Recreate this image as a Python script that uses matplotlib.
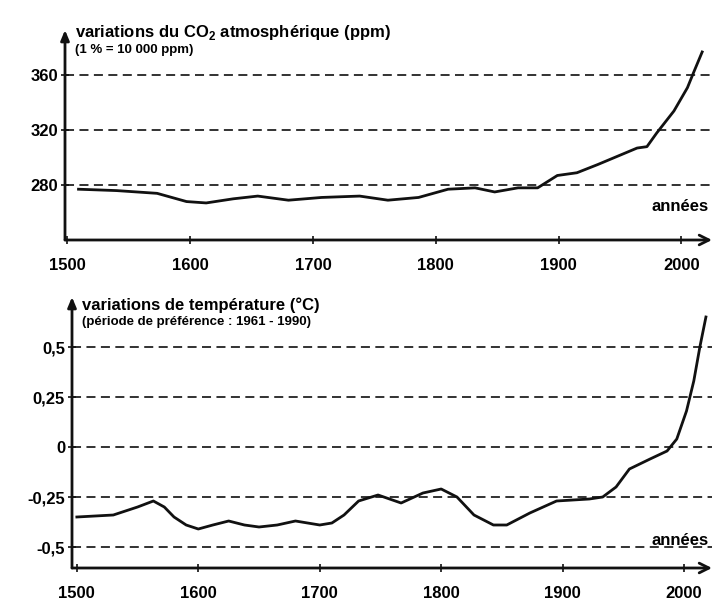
import matplotlib.pyplot as plt

# CO2 atmospheric concentration (ppm)
co2_years = [1509, 1540, 1573, 1597, 1613, 1635, 1655, 1680, 1707, 1738, 1761, 1786,
             1810, 1832, 1848, 1867, 1883, 1899, 1915, 1932, 1948, 1964, 1972, 1980,
             1994, 2005, 2010, 2017]
co2_ppm = [277, 276, 274, 268, 267, 270, 272, 269, 271, 272, 269, 271,
           277, 278, 275, 278, 278, 287, 289, 295, 301, 307, 308, 318,
           334, 351, 362, 377]

# temperature anomaly (°C), reference period 1961-1990
temp_years = [1500, 1530, 1550, 1563, 1572, 1580, 1590, 1600, 1612, 1625, 1638, 1650,
              1665, 1680, 1700, 1710, 1720, 1732, 1748, 1767, 1785, 1800, 1813, 1827,
              1843, 1854, 1873, 1895, 1922, 1933, 1944, 1955, 1972, 1986, 1994, 2002,
              2008, 2013, 2018]
temp_anom = [-0.35, -0.34, -0.30, -0.27, -0.30, -0.35, -0.39, -0.41, -0.39, -0.37, -0.39, -0.40,
             -0.39, -0.37, -0.39, -0.38, -0.34, -0.27, -0.24, -0.28, -0.23, -0.21, -0.25, -0.34,
             -0.39, -0.39, -0.33, -0.27, -0.26, -0.25, -0.20, -0.11, -0.06, -0.02, 0.04, 0.18,
             0.33, 0.50, 0.65]

co2_ticks = [280, 320, 360]
co2_ticklabels = ['280', '320', '360']
temp_ticks = [-0.5, -0.25, 0, 0.25, 0.5]
temp_ticklabels = ['-0,5', '-0,25', '0', '0,25', '0,5']
year_ticks = [1500, 1600, 1700, 1800, 1900, 2000]

plt.rcParams['font.family'] = ['Liberation Sans', 'DejaVu Sans']
plt.rcParams['font.weight'] = 'bold'
plt.rcParams['mathtext.fontset'] = 'custom'
plt.rcParams['mathtext.bf'] = 'Liberation Sans:bold'

fig = plt.figure(figsize=(7.18, 6.07), dpi=100)
ax1 = fig.add_axes([65 / 718, 367 / 607, 647 / 718, 210 / 607])
ax2 = fig.add_axes([72 / 718, 39 / 607, 640 / 718, 271 / 607])


def style_axis(ax, yticks, ylabels, title, subtitle, ty, sy):
    for s in ax.spines.values():
        s.set_visible(False)
    ax.set_yticks(yticks)
    ax.set_yticklabels(ylabels, fontsize=12, fontweight='bold')
    ax.set_xticks(year_ticks)
    ax.set_xticklabels([str(y) for y in year_ticks], fontsize=12, fontweight='bold')
    ax.tick_params(axis='both', direction='inout', length=6, width=1.2, color='#111111')
    ax.tick_params(axis='x', pad=10)
    ax.tick_params(axis='y', pad=2)
    for y in yticks:
        ax.axhline(y, color='#222222', lw=1.3, ls=(0, (5, 3)), zorder=1)
    # axis arrows
    ax.annotate('', xy=(0, 1.0), xytext=(0, 0), xycoords='axes fraction',
                arrowprops=dict(arrowstyle='-|>,head_width=0.25,head_length=0.6',
                                lw=2, color='#111111', shrinkA=0, shrinkB=0))
    ax.annotate('', xy=(1.0, 0), xytext=(0, 0), xycoords='axes fraction',
                arrowprops=dict(arrowstyle='->,head_width=0.35,head_length=0.7',
                                lw=2, color='#111111', shrinkA=0, shrinkB=0))
    ax.text(0.015, ty, title, transform=ax.transAxes, fontsize=12,
            fontweight='bold', va='center', ha='left')
    ax.text(0.015, sy, subtitle, transform=ax.transAxes, fontsize=9.5,
            fontweight='bold', va='center', ha='left')


ax1.plot(co2_years, co2_ppm, color='#111111', lw=2, zorder=3)
ax1.set_xlim(1498, 2025)
ax1.set_ylim(240, 393)
style_axis(ax1, co2_ticks, co2_ticklabels,
           'variations du CO$_\\mathbf{2}$ atmosphérique (ppm)', '(1 % = 10 000 ppm)',
           0.99, 0.905)
ax1.text(0.995, 0.16, 'années', transform=ax1.transAxes, fontsize=12,
         ha='right', va='center')

ax2.plot(temp_years, temp_anom, color='#111111', lw=2, zorder=3)
ax2.set_xlim(1496, 2023)
ax2.set_ylim(-0.605, 0.75)
style_axis(ax2, temp_ticks, temp_ticklabels,
           'variations de température (°C)', '(période de préférence : 1961 - 1990)',
           0.97, 0.908)
ax2.text(0.995, 0.10, 'années', transform=ax2.transAxes, fontsize=12,
         ha='right', va='center')

fig.savefig('out.png', dpi=100)
